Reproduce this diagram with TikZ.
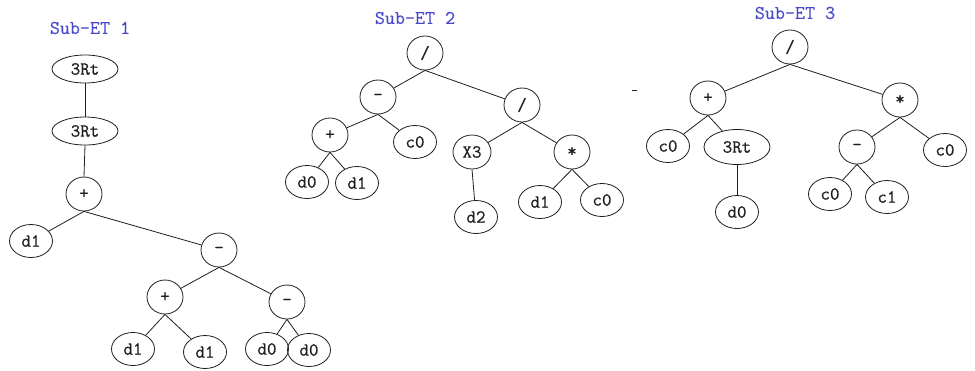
\documentclass[tikz,border=0pt]{standalone}
\usepackage{fontspec}
\newfontfamily\nodefont{Latin Modern Mono}[FakeBold=0.6]
\newfontfamily\titlefont{Latin Modern Mono}[FakeBold=0.25]
\usetikzlibrary{shapes.geometric}
\definecolor{titleblue}{RGB}{72,72,205}
\definecolor{ink}{RGB}{30,30,30}
\tikzset{
  base/.style={draw=ink, line width=0.8pt, ellipse, inner sep=0pt, text=ink,
    font=\nodefont\fontsize{18.5}{20}\selectfont},
  op/.style={base, minimum width=36pt, minimum height=34pt},
  leaf/.style={base, minimum width=43pt, minimum height=33pt},
  root/.style={base, minimum width=66pt, minimum height=28pt},
  ttl/.style={text=titleblue, font=\titlefont\fontsize{19.5}{21}\selectfont, inner sep=0pt},
  edge/.style={draw=ink, line width=0.8pt}
}
\begin{document}
\begin{tikzpicture}[x=1pt,y=-1pt]
\useasboundingbox (0,0) rectangle (975,370);
% Tree 1
\node[ttl] (t1) at (90,28) {Sub-ET 1};
\node[root] (a1) at (85,69) {3Rt};
\node[root] (a2) at (85,131) {3Rt};
\node[op] (a3) at (84,194) {+};
\node[leaf] (a4) at (31,241) {d1};
\node[op] (a5) at (219,250) {-};
\node[op] (a6) at (165,297) {+};
\node[op] (a7) at (287,302) {-};
\node[leaf] (a8) at (133,349) {d1};
\node[leaf] (a9) at (205,352) {d1};
\node[leaf] (a10) at (267,349) {d0};
\node[leaf] (a11) at (309,350) {d0};
\path[edge] (a1.south) -- (a2.north);
\path[edge] (a2.south) -- (a3.north);
\path[edge] (a3.south) -- (a4);
\path[edge] (a3.south) -- (a5);
\path[edge] (a5.south) -- (a6);
\path[edge] (a5.south) -- (a7);
\path[edge] (a6.south) -- (a8);
\path[edge] (a6.south) -- (a9);
\path[edge] (a7.south) -- (a10);
\path[edge] (a7.south) -- (a11);
% Tree 2
\node[ttl] (t2) at (415,18) {Sub-ET 2};
\node[op] (b1) at (425,53) {/};
\node[op] (b2) at (378,97) {-};
\node[op] (b3) at (522,105) {/};
\node[op] (b4) at (330,135) {+};
\node[leaf] (b5) at (415,142) {c0};
\node[leaf] (b6) at (307,182) {d0};
\node[leaf] (b7) at (357,183) {d1};
\node[op, minimum width=38pt] (b8) at (472,152) {X3};
\node[op] (b9) at (572,152) {*};
\node[leaf] (b10) at (476,217) {d2};
\node[leaf] (b11) at (540,202) {d1};
\node[leaf] (b12) at (602,200) {c0};
\path[edge] (b1.south) -- (b2);
\path[edge] (b1.south) -- (b3);
\path[edge] (b2.south) -- (b4);
\path[edge] (b2.south) -- (b5);
\path[edge] (b4.south) -- (b6);
\path[edge] (b4.south) -- (b7);
\path[edge] (b3.south) -- (b8);
\path[edge] (b3.south) -- (b9);
\path[edge] (b8.south) -- (b10);
\path[edge] (b9.south) -- (b11);
\path[edge] (b9.south) -- (b12);
% stray dash
\draw[ink, line width=0.9pt] (632,90) -- (637,90);
% Tree 3
\node[ttl] (t3) at (795,13) {Sub-ET 3};
\node[op] (c1) at (790,47) {/};
\node[op] (c2) at (708,98) {+};
\node[op] (c3) at (900,100) {*};
\node[leaf] (c4) at (668,146) {c0};
\node[root, minimum height=35pt] (c5) at (737,147) {3Rt};
\node[leaf] (c6) at (737,212) {d0};
\node[op] (c7) at (857,147) {-};
\node[leaf] (c8) at (945,150) {c0};
\node[leaf] (c9) at (830,194) {c0};
\node[leaf] (c10) at (887,197) {c1};
\path[edge] (c1.south) -- (c2);
\path[edge] (c1.south) -- (c3);
\path[edge] (c2.south) -- (c4);
\path[edge] (c2.south) -- (c5);
\path[edge] (c5.south) -- (c6.north);
\path[edge] (c3.south) -- (c7);
\path[edge] (c3.south) -- (c8);
\path[edge] (c7.south) -- (c9);
\path[edge] (c7.south) -- (c10);
\end{tikzpicture}
\end{document}
